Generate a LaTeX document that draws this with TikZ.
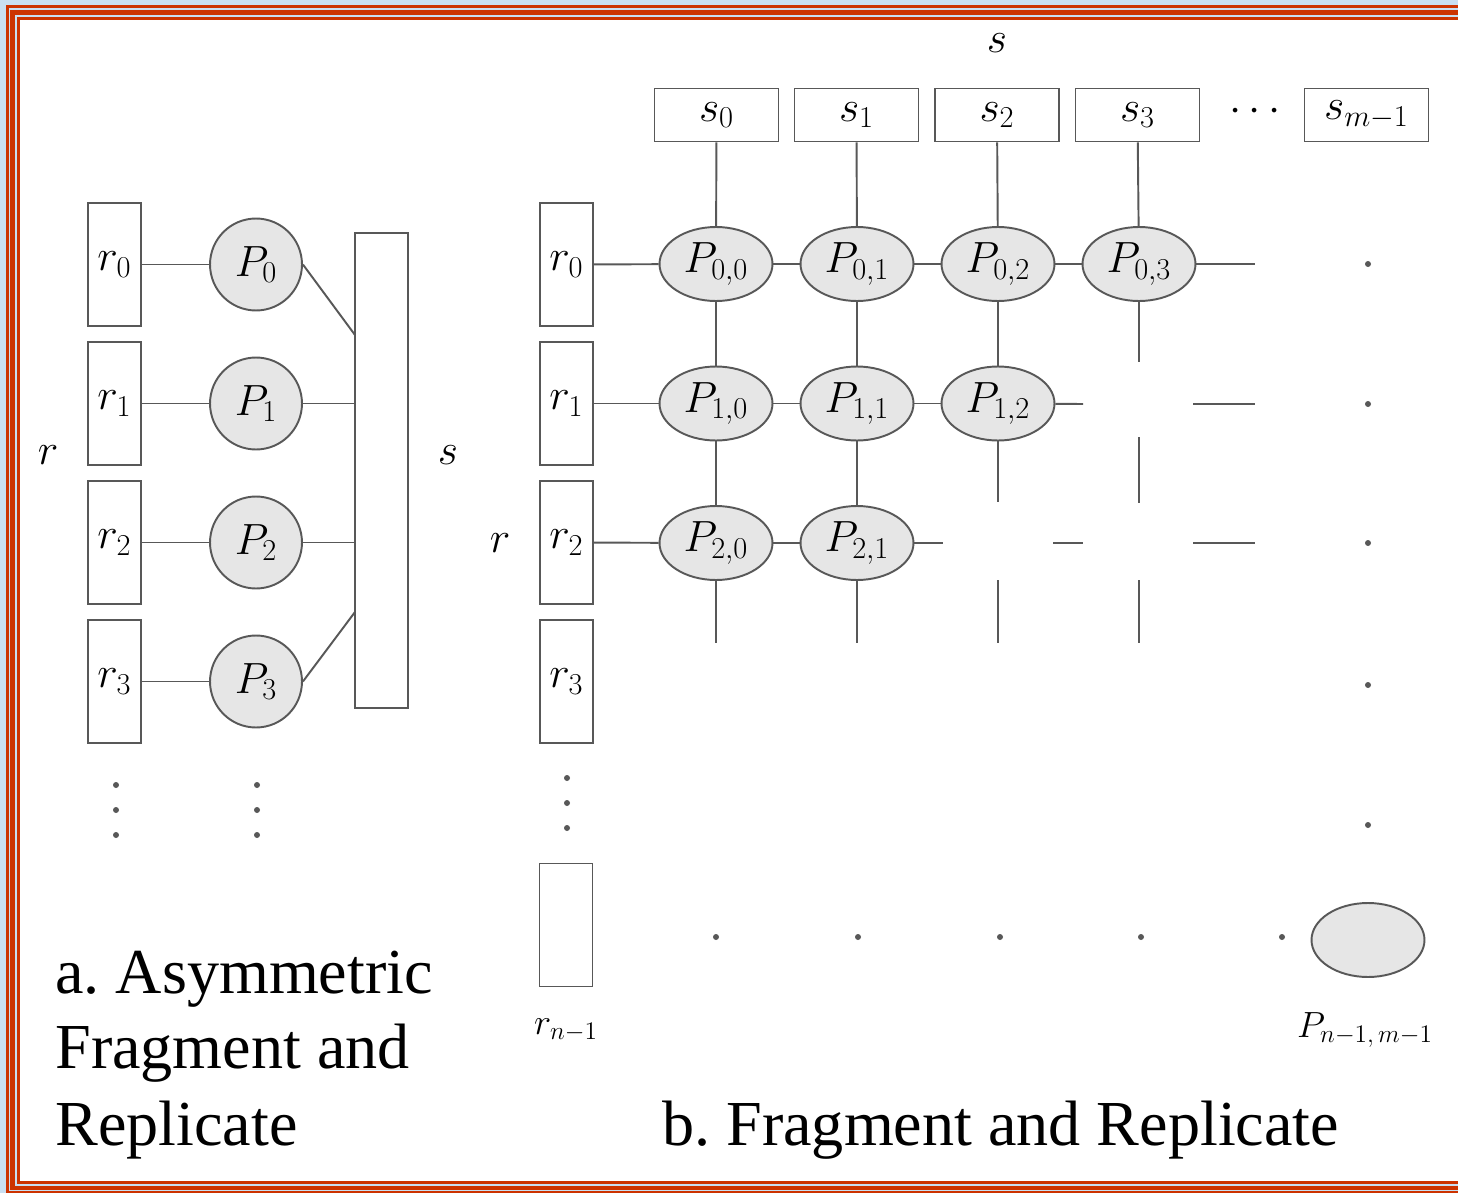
\documentclass[tikz,border=0pt]{standalone}
\usepackage{fontspec}
\setmainfont{Liberation Serif}
\usetikzlibrary{shapes.geometric}
\usetikzlibrary{positioning}
\frenchspacing

\definecolor{framered}{HTML}{CC3300}
\definecolor{frameblue}{HTML}{C9DFF1}
\definecolor{lineg}{HTML}{585858}
\definecolor{procfill}{HTML}{E6E6E6}

\newcommand{\lblsize}{\fontsize{25}{30}\selectfont}
\newcommand{\smlblsize}{\fontsize{22}{26}\selectfont}
\newcommand{\capsize}{\fontsize{36.5}{44}\selectfont}

\tikzset{
    frag/.style={
           rectangle,
           draw=lineg, line width=1.1pt,
           inner sep=0pt,
           minimum width=1.06cm,
           minimum height=2.46cm,
           font=\lblsize,
           },
}
\tikzset{
    segbox/.style={
           rectangle,
           draw=lineg, line width=1.1pt,
           inner sep=0pt,
           minimum width=2.48cm,
           minimum height=1.06cm,
           font=\lblsize,
           },
}
\tikzset{
    proc/.style={
           circle,
           draw=lineg, line width=1.1pt,
           fill=procfill,
           inner sep=0pt,
           minimum size=1.84cm,
           font=\lblsize,
           },
}
\tikzset{
    procell/.style={
           ellipse,
           draw=lineg, line width=1.1pt,
           fill=procfill,
           inner sep=0pt,
           minimum width=2.26cm,
           minimum height=1.48cm,
           font=\lblsize,
           },
}
\tikzset{
    lbl/.style={inner sep=0pt, font=\lblsize},
    caption/.style={inner sep=0pt, font=\capsize, anchor=base west},
}

\begin{document}
\begin{tikzpicture}[x=0.02cm,y=-0.02cm,
  every edge/.style={draw=lineg, line width=1.1pt}]

 \useasboundingbox (0,0) rectangle (1458,1193);

 % frame
 \fill[frameblue] (0,0) rectangle (1458,1193);
 \fill[framered] (6,5) rectangle (1458,1193);
 \fill[frameblue] (9,8) rectangle (1458,1191);
 \fill[framered] (10,10) rectangle (1458,1190);
 \fill[frameblue] (15,15) rectangle (1458,1186);
 \fill[framered] (17,17) rectangle (1458,1184);
 \fill[white] (20,20) rectangle (1458,1181);

 % a. asymmetric fragment and replicate
 \foreach \i in {0,...,3}{
   \node[frag] (ra\i) at (114.5,{264.5+139*\i}) {$r_{\i}$};
   \node[proc] (pa\i) at (256,{264.5+139*\i}) {$P_{\i}$};
   \path (ra\i) edge (pa\i);
 }
 \node[frag, minimum height=9.5cm] (S) at (381.5,470.5) {};
 \coordinate (sin0) at (355,335);
 \coordinate (sin3) at (355,612);
 \path (pa0.east) edge (sin0)
       (pa1) edge (S.west |- pa1)
       (pa2) edge (S.west |- pa2)
       (pa3.east) edge (sin3);
 \node[lbl] (rlabela) at (48,455) {$r$};
 \node[lbl] (slabela) at (448,455) {$s$};
 \foreach \y in {785,810,835}{
   \fill[lineg] (116,\y) circle (3);
   \fill[lineg] (257,\y) circle (3);
 }

 % b. fragment and replicate
 \node[lbl] (slabelb) at (997,43) {$s$};
 \foreach \j/\x in {0/716.5,1/856.5,2/997,3/1137.5}
   \node[segbox] (s\j) at (\x,115) {$s_{\j}$};
 \node[lbl] (sdots) at (1255,112) {$\cdots$};
 \node[segbox] (sm) at (1366.5,115) {$s_{m-1}$};

 \foreach \i in {0,...,3}
   \node[frag] (rb\i) at (566.5,{264.5+139*\i}) {$r_{\i}$};
 \node[frag] (rbn) at (566,925) {};
 \node[lbl, font=\smlblsize] (rbnlabel) at (566,1030) {$r_{n-1}$};
 \node[lbl] (rlabelb) at (500,543) {$r$};

 \foreach \i/\j in {0/0,0/1,0/2,0/3,1/0,1/1,1/2,2/0,2/1}
   \node[procell] (p\i\j) at ({716+141*\j},{264+139.5*\i}) {$P_{\i,\j}$};
 \node[procell] (pnm) at (1368,940) {};
 \node[lbl, font=\smlblsize] (pnmlabel) at (1365,1030) {$P_{n-1,\,m-1}$};

 \coordinate (e03) at (1255,264);
 \coordinate (d03) at (1139,362);
 \coordinate (e12) at (1083,404);
 \coordinate (d12) at (998,502);
 \coordinate (e21) at (943,543);
 \coordinate (d20) at (716,643);
 \coordinate (d21) at (857,643);

 \path (rb0) edge (p00) (p00) edge (p01) (p01) edge (p02) (p02) edge (p03)
       (rb1) edge (p10) (p10) edge (p11) (p11) edge (p12)
       (rb2) edge (p20) (p20) edge (p21)
       (s0) edge (p00) (s1) edge (p01) (s2) edge (p02) (s3) edge (p03)
       (p00) edge (p10) (p01) edge (p11) (p02) edge (p12)
       (p10) edge (p20) (p11) edge (p21)
       (p03) edge (e03) (p03) edge (d03)
       (p12) edge (e12) (p12) edge (d12)
       (p21) edge (e21) (p20) edge (d20) (p21) edge (d21);

 % loose pieces of the grid
 \coordinate (h1a) at (1193,404);  \coordinate (h1b) at (1255,404);
 \coordinate (h2a) at (1053,543);  \coordinate (h2b) at (1083,543);
 \coordinate (h3a) at (1193,543);  \coordinate (h3b) at (1255,543);
 \coordinate (v1a) at (1139,437);  \coordinate (v1b) at (1139,503);
 \coordinate (v2a) at (998,580);   \coordinate (v2b) at (998,643);
 \coordinate (v3a) at (1139,580);  \coordinate (v3b) at (1139,643);
 \path (h1a) edge (h1b) (h2a) edge (h2b) (h3a) edge (h3b)
       (v1a) edge (v1b) (v2a) edge (v2b) (v3a) edge (v3b);

 \foreach \y in {264,404,543,685,825}
   \fill[lineg] (1368,\y) circle (3);
 \foreach \x in {716,858,1000,1141,1282}
   \fill[lineg] (\x,937) circle (3);
 \foreach \y in {778,803,828}
   \fill[lineg] (567,\y) circle (3);

 % captions
 \node[caption] (capa1) at (55,993) {a. Asymmetric};
 \node[caption] (capa2) at (55,1068) {Fragment and};
 \node[caption] (capa3) at (55,1145) {Replicate};
 \node[caption] (capb) at (662,1145) {b. Fragment and Replicate};

\end{tikzpicture}
\end{document}
